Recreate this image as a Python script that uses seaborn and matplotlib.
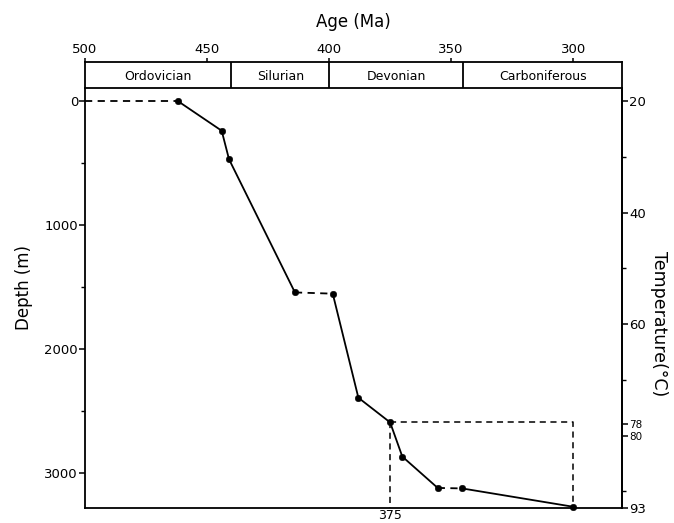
"""
Burial history: depth vs age, with temperature scale on the right.
"""

import numpy as np
import pandas as pd
import matplotlib.pyplot as plt
import seaborn as sns

# --- data ---
periods = ["Ordovician", "Silurian", "Devonian", "Carboniferous"]
period_bounds = [500, 440, 400, 345, 280]

age_ma = [462, 444, 441, 414, 398.5, 388, 375, 370, 355.5, 345.5, 300]
depth_m = [0, 240, 470, 1545, 1555, 2395, 2594, 2870, 3123, 3127, 3275]
# style of each leg between consecutive points; hiatus legs are dashed
leg_style = ["solid", "solid", "solid", "dashed", "solid", "solid",
             "solid", "solid", "dashed", "solid"]

age_ticks = [500, 450, 400, 350, 300]
depth_ticks = [0, 1000, 2000, 3000]
depth_minor = [500, 1500, 2500]
temp_ticks = [20, 40, 60, 78, 80, 93]
temp_minor = [30, 50, 70, 90]
surface_temp = 20
bottom_depth = 3285
bottom_temp = 93

box_ages = [375, 300]      # dashed window at 78 degC
box_depth = 2594
bottom_label = "375"

grad = (bottom_temp - surface_temp) / bottom_depth
DASH = (0, (4, 3))


def d2t(d):
    return surface_temp + np.asarray(d) * grad


def t2d(t):
    return (np.asarray(t) - surface_temp) / grad


def dashed_line(ax, x, y, lw=1.3):
    sns.lineplot(x=x, y=y, sort=False, estimator=None, color="black",
                 lw=lw, ax=ax)
    ax.lines[-1].set_linestyle(DASH)


sns.set_theme(style="ticks")
plt.rcParams["font.family"] = ["DejaVu Sans"]
plt.rcParams["axes.linewidth"] = 1.3
for key in ["text.color", "axes.labelcolor", "xtick.color", "ytick.color",
            "axes.edgecolor"]:
    plt.rcParams[key] = "black"

fig = plt.figure(figsize=(6.74, 5.23), dpi=100)
ax = fig.add_axes([85 / 674, 15 / 523, 537 / 674, 420 / 523])
axp = fig.add_axes([85 / 674, 435 / 523, 537 / 674, 26 / 523])

# --- curve ---
df = pd.DataFrame({"age": age_ma, "depth": depth_m})
for i, ls in enumerate(leg_style):
    seg = df.iloc[i:i + 2]
    if ls == "dashed":
        dashed_line(ax, seg["age"].tolist(), seg["depth"].tolist())
    else:
        sns.lineplot(data=seg, x="age", y="depth", sort=False,
                     estimator=None, color="black", lw=1.3, ax=ax)

# surface line to the left edge
dashed_line(ax, [period_bounds[0], age_ma[0]], [depth_m[0], depth_m[0]])

# dashed window
dashed_line(ax, [box_ages[0], box_ages[1], box_ages[1]],
            [box_depth, box_depth, bottom_depth], lw=1.1)
dashed_line(ax, [box_ages[0], box_ages[0]], [box_depth, bottom_depth], lw=1.1)

sns.scatterplot(data=df, x="age", y="depth", color="black", s=22,
                edgecolor="black", zorder=5, ax=ax, clip_on=False)

ax.set_xlim(period_bounds[0], period_bounds[-1])
ax.set_ylim(bottom_depth, -105)
ax.spines["top"].set_visible(False)

ax.set_xticks([box_ages[0]], [bottom_label])
ax.tick_params(axis="x", length=0, pad=1, labelsize=9)
ax.set_xlabel("")

ax.set_yticks(depth_ticks, [str(v) for v in depth_ticks])
ax.set_yticks(depth_minor, minor=True)
ax.tick_params(axis="y", which="major", length=4, width=1.1, labelsize=9.5, pad=1)
ax.tick_params(axis="y", which="minor", length=3, width=1.0)
ax.set_ylabel("Depth (m)", fontsize=12, va="center")
ax.yaxis.set_label_coords(-0.114, 0.524)

sec = ax.secondary_yaxis("right", functions=(d2t, t2d))
sec.set_yticks(temp_ticks, [str(v) for v in temp_ticks])
sec.set_yticks(temp_minor, minor=True)
sec.tick_params(which="major", length=4, width=1.1, labelsize=9.5, pad=1)
sec.tick_params(which="minor", length=3, width=1.0)
# 78 and 80 sit very close: smaller type so they stack
for lab in sec.get_yticklabels():
    if lab.get_text() in ("78", "80"):
        lab.set_fontsize(7.5)
sec.set_ylabel("Temperature(\u00b0C)", fontsize=12.5, rotation=270, va="center")
sec.yaxis.set_label_coords(1.069, 0.438, transform=ax.transAxes)

# --- period bar with age axis on top ---
axp.set_xlim(period_bounds[0], period_bounds[-1])
axp.set_ylim(0, 1)
axp.set_yticks([])
for b in period_bounds[1:-1]:
    axp.axvline(b, color="black", lw=1.3)
for name, a, b in zip(periods, period_bounds[:-1], period_bounds[1:]):
    axp.text((a + b) / 2, 0.45, name, ha="center", va="center", fontsize=9)
axp.xaxis.tick_top()
axp.set_xticks(age_ticks, [str(v) for v in age_ticks])
axp.tick_params(axis="x", length=3, width=1.1, labelsize=9.5, pad=1)
axp.xaxis.set_label_position("top")
axp.set_xlabel("Age (Ma)", fontsize=12, labelpad=12)

fig.savefig("out.png", dpi=100)
